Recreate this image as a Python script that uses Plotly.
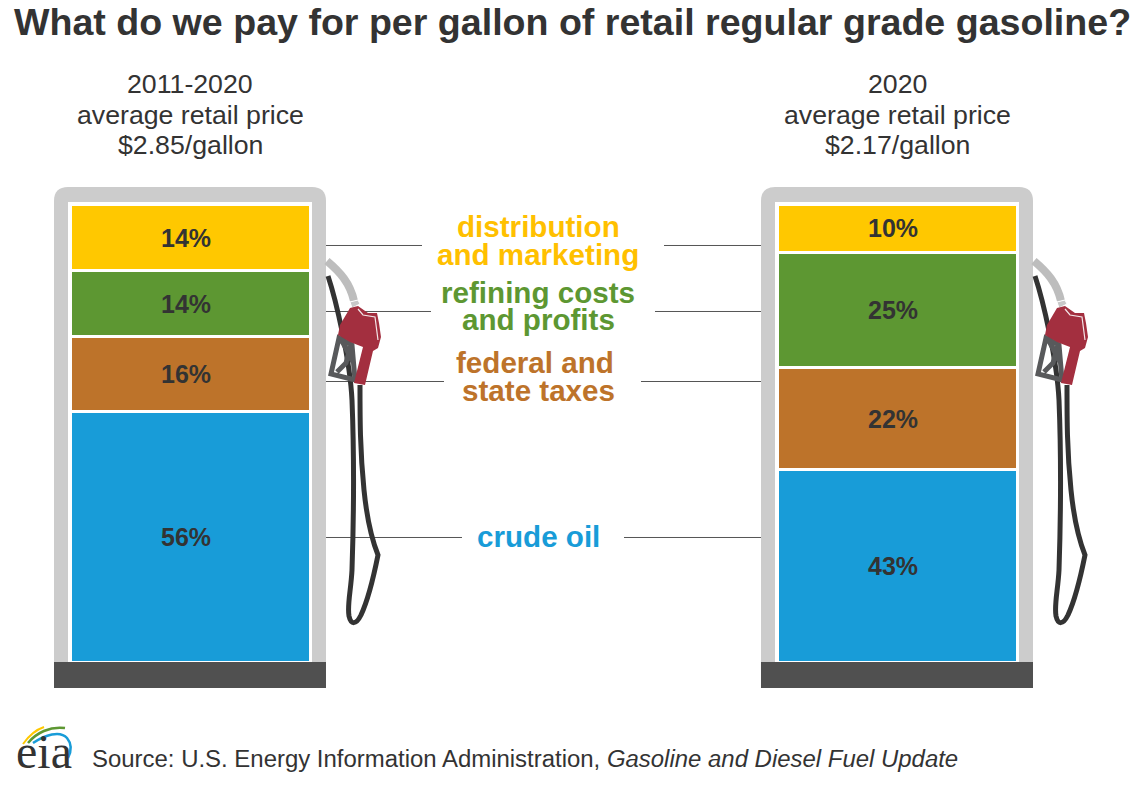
import plotly.graph_objects as go

W = 1140
H = 786

periods = ["2011-2020", "2020"]
# bar heights, the printed labels are rounded
crude_oil = [54.85, 42.05]
taxes = [16.3, 22.3]
refining = [14.4, 25.25]
distribution = [14.45, 10.4]
crude_labels = ["56%", "43%"]
taxes_labels = ["16%", "22%"]
refining_labels = ["14%", "25%"]
distribution_labels = ["14%", "10%"]
header_years = ["2011-2020", "2020"]
header_prices = ["$2.85/gallon", "$2.17/gallon"]

BLUE = "#189CD8"
BROWN = "#BD732A"
GREEN = "#5D9732"
YELLOW = "#FFC800"
DARK = "#333333"
SANS = "Liberation Sans, Arial, sans-serif"


def px_path(path):
    # path in page pixels -> paper coordinates
    out = []
    is_x = True
    for tok in path.split():
        if tok.isalpha():
            out.append(tok)
            is_x = True
        elif is_x:
            out.append(str(round(float(tok) / W, 5)))
            is_x = False
        else:
            out.append(str(round(1 - float(tok) / H, 5)))
            is_x = True
    return " ".join(out)


def shape(path, fill=None, line=None, width=0, layer="above"):
    d = dict(type="path", path=px_path(path), xref="paper", yref="paper", layer=layer)
    d["fillcolor"] = fill if fill else "rgba(0,0,0,0)"
    d["line"] = dict(color=line if line else "rgba(0,0,0,0)", width=width)
    return d


def shifted(points, dx):
    toks = []
    is_x = True
    for tok in points.split():
        if tok.isalpha():
            toks.append(tok)
            is_x = True
        else:
            toks.append(str(float(tok) + dx) if is_x else tok)
            is_x = not is_x
    return " ".join(toks)


def pump_shapes(dx):
    res = []
    # cabinet
    res.append(shape(shifted("M 54 662 L 54 201 Q 54 187 68 187 L 312 187 Q 326 187 326 201 L 326 662 Z", dx),
                     fill="#CCCCCC", layer="below"))
    res.append(shape(shifted("M 68 662 L 68 202 L 312 202 L 312 662 Z", dx), fill="#FFFFFF", layer="below"))
    res.append(shape(shifted("M 54 662 L 326 662 L 326 688 L 54 688 Z", dx), fill="#505050"))
    # hoses
    res.append(shape(shifted("M 327 261 C 340 272 350 283 354 301", dx), line="#BDBDBD", width=8))
    res.append(shape(shifted("M 328 276 C 336 300 350 360 352 400 C 354 450 354 510 352 570 "
                             "C 351 590 347 605 349 616 C 351 625 356 625 361 615 "
                             "C 368 600 374 575 378 555 C 372 540 367 520 364 490 "
                             "C 360 450 360 420 360 385", dx), line="#333333", width=5))
    # ferrule
    res.append(shape(shifted("M 350 302 L 358 300 L 360 304 L 352 308 Z", dx), fill="#C8C8C8", line="#FFFFFF", width=1))
    # trigger guard
    res.append(shape(shifted("M 339 338 L 331 374 L 355 380 L 352 345 Z M 351 345 L 346 363 L 337 372 M 342 341 L 353 362", dx),
                     line="#58595B", width=5))
    # nozzle
    res.append(shape(shifted("M 350 308 L 358 306 L 368 313 L 377 313 L 379 323 L 381 337 L 378 348 L 373 351 "
                             "L 365 385 L 354 383 L 363 347 L 350 342 L 338 335 L 340 325 Z", dx), fill="#A32F3F"))
    res.append(shape(shifted("M 358 309 L 363 315 L 375 317 L 378 340", dx), line="#F2E6E8", width=1.2))
    return res


def leader(y, x_left, x_right):
    return [shape(f"M 326 {y} L {x_left} {y}", line="#555555", width=1, layer="below"),
            shape(f"M {x_right} {y} L 761 {y}", line="#555555", width=1, layer="below")]


fig = go.Figure()
series = [(crude_oil, crude_labels, BLUE, "crude oil"),
          (taxes, taxes_labels, BROWN, "federal and state taxes"),
          (refining, refining_labels, GREEN, "refining costs and profits"),
          (distribution, distribution_labels, YELLOW, "distribution and marketing")]
annotations = []
base = [0, 0]
for values, labels, color, name in series:
    fig.add_trace(go.Bar(
        x=periods, y=values, name=name, width=240 / 707,
        marker=dict(color=color, line=dict(color="#FFFFFF", width=3)),
    ))
    # labels sit a little left of the bar centre in the original
    for i in range(2):
        annotations.append(dict(
            x=i, y=base[i] + values[i] / 2, xref="x", yref="y", text=labels[i],
            showarrow=False, xshift=-4,
            font=dict(family=SANS, size=25, color=DARK, weight="bold"),
        ))
        base[i] += values[i]

shapes = []
shapes += leader(245.5, 422, 664)
shapes += leader(311.5, 431, 655)
shapes += leader(381.5, 444, 641)
shapes += leader(537.5, 462, 624)
shapes += pump_shapes(0) + pump_shapes(707)
# eia logo arcs
shapes.append(shape("M 23 744 C 28 737 35 730 44 727", line="#FFC800", width=2))
shapes.append(shape("M 28 743 C 36 733 50 726 65 728", line="#5D9732", width=2.5))
shapes.append(shape("M 33 743 C 45 735 60 730 67 738 C 72 744 71 752 68 758", line="#189CD8", width=2.5))


def text(x, y, s, size, color=DARK, bold=False, anchor="center", family=SANS):
    annotations.append(dict(
        x=x / W, y=1 - y / H, xref="paper", yref="paper", text=s, showarrow=False,
        xanchor=anchor, yanchor="middle",
        font=dict(family=family, size=size, color=color, weight="bold" if bold else "normal"),
    ))


text(12, 22, "What do we pay for per gallon of retail regular grade gasoline?", 37.6, bold=True, anchor="left")
for cx, year, price in zip([190, 897], header_years, header_prices):
    text(cx, 84, year, 26.7)
    text(cx, 115, "average retail price", 26.7)
    text(cx, 145, price, 26.7)
text(538, 226, "distribution", 29.6, "#FFC000", True)
text(538, 254, "and marketing", 29.6, "#FFC000", True)
text(538, 292, "refining costs", 29.6, GREEN, True)
text(538, 319, "and profits", 29.6, GREEN, True)
text(535, 362, "federal and", 29.6, BROWN, True)
text(538, 390, "state taxes", 29.6, BROWN, True)
text(538, 536, "crude oil", 29.6, BLUE, True)
text(90, 758, "Source: U.S. Energy Information Administration, <i>Gasoline and Diesel Fuel Update</i>", 23.95, anchor="left")
text(14, 751, "eia", 48, "#333333", anchor="left", family="Liberation Serif, serif")

px_per_unit = 4.575
fig.update_layout(
    width=W, height=H, autosize=False,
    margin=dict(l=0, r=0, t=0, b=0),
    barmode="stack",
    showlegend=False,
    paper_bgcolor="#FFFFFF",
    plot_bgcolor="rgba(0,0,0,0)",
    xaxis=dict(visible=False, type="category", range=[-190 / 707, 950 / 707]),
    yaxis=dict(visible=False, range=[-(H - 662) / px_per_unit, 662 / px_per_unit]),
    shapes=shapes,
    annotations=annotations,
)

fig.write_html("out.html", config={"displayModeBar": False}, post_script="document.body.style.margin = '0';")
